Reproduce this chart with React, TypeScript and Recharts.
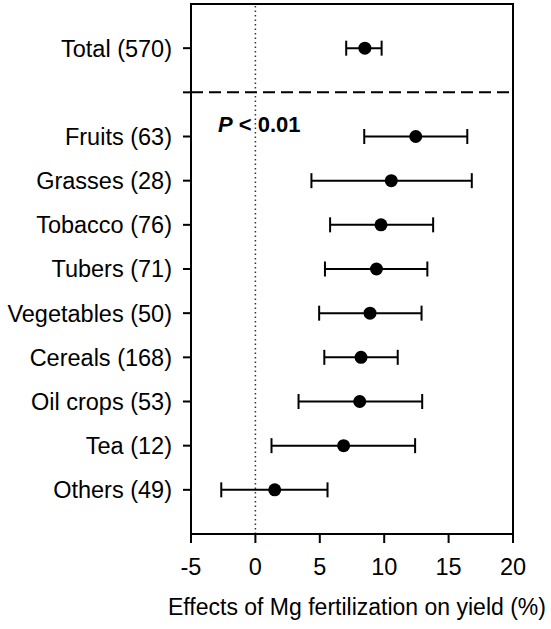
import React from 'react';
import {
  ComposedChart, Scatter, ErrorBar, XAxis, YAxis, ReferenceLine, ReferenceArea, Customized,
} from 'recharts';

const FONT = '"Liberation Sans", Arial, sans-serif';
const INK = '#000';

// Effects of Mg fertilization on yield (%), mean with 95% CI
const TOTAL_LABEL = 'Total (570)';
const TOTAL_MEAN = 8.5;
const TOTAL_LOW = 7.05;
const TOTAL_HIGH = 9.8;

const CROPS = [
  'Fruits (63)', 'Grasses (28)', 'Tobacco (76)', 'Tubers (71)', 'Vegetables (50)',
  'Cereals (168)', 'Oil crops (53)', 'Tea (12)', 'Others (49)',
];
const CROP_MEAN = [12.45, 10.55, 9.75, 9.4, 8.9, 8.2, 8.1, 6.85, 1.5];
const CROP_LOW = [8.45, 4.35, 5.8, 5.4, 4.95, 5.35, 3.35, 1.25, -2.65];
const CROP_HIGH = [16.45, 16.8, 13.8, 13.35, 12.9, 11.05, 12.95, 12.4, 5.6];

const X_TICKS = [-5, 0, 5, 10, 15, 20];

// row 1 = Total, row 2 = divider, rows 3.. = crop groups
const rows = [
  { row: 1, label: TOTAL_LABEL, mean: TOTAL_MEAN, err: [TOTAL_MEAN - TOTAL_LOW, TOTAL_HIGH - TOTAL_MEAN] },
  ...CROPS.map((c, i) => ({
    row: i + 3,
    label: c,
    mean: CROP_MEAN[i],
    err: [CROP_MEAN[i] - CROP_LOW[i], CROP_HIGH[i] - CROP_MEAN[i]],
  })),
];
const labelByRow: Record<number, string> = {};
rows.forEach(r => { labelByRow[r.row] = r.label; });

const Dot = (p: any) => <circle cx={p.cx} cy={p.cy} r={6.5} fill={INK} />;

export default function App() {
  return (
    <div style={{ position: 'absolute', left: 0, top: 0, background: '#fff' }}>
      <ComposedChart width={551} height={629} data={rows} margin={{ top: 4, right: 38, bottom: 0, left: 0 }}>
        <XAxis
          type="number"
          dataKey="mean"
          domain={[-5, 20]}
          ticks={X_TICKS}
          interval={0}
          height={95}
          stroke={INK}
          strokeWidth={2}
          tickSize={9}
          tickMargin={15}
          tick={{ fill: INK, fontSize: 23.5, fontFamily: FONT }}
          label={{
            value: 'Effects of Mg fertilization on yield (%)',
            position: 'insideBottom',
            offset: 14,
            dx: 5,
            fill: INK,
            fontSize: 23,
            fontFamily: FONT,
          }}
        />
        <YAxis
          type="number"
          dataKey="row"
          domain={[0, 12]}
          reversed
          ticks={[1, 2, 3, 4, 5, 6, 7, 8, 9, 10, 11]}
          interval={0}
          width={191}
          stroke={INK}
          strokeWidth={2}
          tickSize={8}
          tickMargin={11}
          tickFormatter={(v: number) => labelByRow[v] ?? ''}
          tick={{ fill: INK, fontSize: 23.5, fontFamily: FONT }}
        />
        <ReferenceArea x1={-5} x2={20} y1={0} y2={12} fill="none" stroke={INK} strokeWidth={2} ifOverflow="visible" />
        <ReferenceLine x={0} stroke="#333" strokeWidth={1.5} strokeDasharray="1.5 3" />
        <ReferenceLine y={2} stroke={INK} strokeWidth={2} strokeDasharray="12 6" />
        <Scatter dataKey="mean" shape={Dot} isAnimationActive={false}>
          <ErrorBar dataKey="err" direction="x" width={7.5} stroke={INK} strokeWidth={2} isAnimationActive={false} />
        </Scatter>
        <Customized
          component={() => (
            <text x={218} y={132} fontFamily={FONT} fontSize={22} fontWeight="bold" fill={INK}>
              <tspan fontStyle="italic">P</tspan> &lt; 0.01
            </text>
          )}
        />
      </ComposedChart>
    </div>
  );
}
